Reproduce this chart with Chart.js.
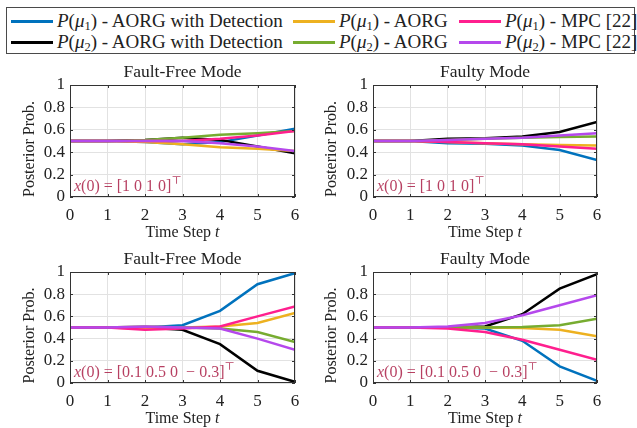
<!DOCTYPE html>
<html>
<head>
<meta charset="utf-8">
<script src="https://cdn.jsdelivr.net/npm/chart.js@4"></script>
<style>
body { margin: 0; background: #fff; width: 637px; height: 428px; position: relative; overflow: hidden;
       font-family: "Liberation Serif", "DejaVu Serif", serif; color: #222; }
canvas { position: absolute; }
#legendBox { position: absolute; left: 6px; top: 7px; width: 627px; height: 45px; border: 1px solid #4a4a4a; }
.sw { position: absolute; width: 42px; height: 3px; }
.lb { position: absolute; font-size: 19px; line-height: 22px; height: 22px; white-space: nowrap; }
.lb sub { font-size: 12.5px; vertical-align: -3px; line-height: 0; }
</style>
</head>
<body>
<div id="legendBox"></div>
<div id="legend"></div>
<canvas id="tl" width="310" height="185" style="left:0;top:58px"></canvas>
<canvas id="tr" width="327" height="185" style="left:310px;top:58px"></canvas>
<canvas id="bl" width="310" height="183" style="left:0;top:245px"></canvas>
<canvas id="br" width="327" height="183" style="left:310px;top:245px"></canvas>
<script>
const steps = [0, 1, 2, 3, 4, 5, 6];
const yTicks = [0, 0.2, 0.4, 0.6, 0.8, 1];
const yTickLabels = ['0', '0.2', '0.4', '0.6', '0.8', '1'];

// fault-free mode, x(0) = [1 0 1 0]
const ffA_detMu1 = [0.5, 0.5, 0.49, 0.47, 0.49, 0.55, 0.61];
const ffA_detMu2 = [0.5, 0.5, 0.51, 0.53, 0.51, 0.45, 0.39];
const ffA_aorgMu1 = [0.5, 0.5, 0.49, 0.47, 0.445, 0.43, 0.41];
const ffA_aorgMu2 = [0.5, 0.5, 0.51, 0.53, 0.555, 0.57, 0.59];
const ffA_mpcMu1 = [0.5, 0.5, 0.5, 0.5, 0.52, 0.55, 0.59];
const ffA_mpcMu2 = [0.5, 0.5, 0.5, 0.5, 0.48, 0.45, 0.41];

// faulty mode, x(0) = [1 0 1 0]
const fyA_detMu1 = [0.5, 0.5, 0.48, 0.475, 0.46, 0.42, 0.33];
const fyA_detMu2 = [0.5, 0.5, 0.52, 0.525, 0.54, 0.58, 0.67];
const fyA_aorgMu1 = [0.5, 0.5, 0.49, 0.48, 0.47, 0.465, 0.46];
const fyA_aorgMu2 = [0.5, 0.5, 0.51, 0.52, 0.53, 0.535, 0.54];
const fyA_mpcMu1 = [0.5, 0.5, 0.49, 0.48, 0.47, 0.45, 0.43];
const fyA_mpcMu2 = [0.5, 0.5, 0.51, 0.52, 0.53, 0.55, 0.57];

// fault-free mode, x(0) = [0.1 0.5 0 -0.3]
const ffB_detMu1 = [0.5, 0.5, 0.5, 0.52, 0.65, 0.89, 0.99];
const ffB_detMu2 = [0.5, 0.5, 0.5, 0.48, 0.35, 0.11, 0.01];
const ffB_aorgMu1 = [0.5, 0.5, 0.49, 0.5, 0.51, 0.54, 0.63];
const ffB_aorgMu2 = [0.5, 0.5, 0.51, 0.5, 0.49, 0.46, 0.37];
const ffB_mpcMu1 = [0.5, 0.5, 0.48, 0.49, 0.51, 0.6, 0.69];
const ffB_mpcMu2 = [0.5, 0.5, 0.51, 0.5, 0.49, 0.4, 0.3];

// faulty mode, x(0) = [0.1 0.5 0 -0.3]
const fyB_detMu1 = [0.5, 0.5, 0.5, 0.49, 0.38, 0.15, 0.02];
const fyB_detMu2 = [0.5, 0.5, 0.5, 0.51, 0.62, 0.85, 0.98];
const fyB_aorgMu1 = [0.5, 0.5, 0.5, 0.5, 0.495, 0.48, 0.42];
const fyB_aorgMu2 = [0.5, 0.5, 0.5, 0.5, 0.505, 0.52, 0.58];
const fyB_mpcMu1 = [0.5, 0.5, 0.49, 0.46, 0.39, 0.3, 0.21];
const fyB_mpcMu2 = [0.5, 0.5, 0.51, 0.54, 0.61, 0.7, 0.79];

const seriesNames = ['AORG with Detection', 'AORG with Detection', 'AORG', 'AORG', 'MPC [22]', 'MPC [22]'];
const seriesMu = [1, 2, 1, 2, 1, 2];
const seriesColors = ['#0072BD', '#000000', '#EDB120', '#77AC30', '#FF1F8E', '#B548EC'];

// legend (html, two rows of three)
const legend = document.getElementById('legend');
const colX = [11, 293, 459];
const rowY = [21, 42];
seriesNames.forEach(function (name, i) {
    const col = Math.floor(i / 2), row = i % 2;
    const sw = document.createElement('div');
    sw.className = 'sw';
    sw.style.left = colX[col] + 'px';
    sw.style.top = (rowY[row] - 1.5) + 'px';
    sw.style.background = seriesColors[i];
    legend.appendChild(sw);
    const lb = document.createElement('div');
    lb.className = 'lb';
    lb.style.left = (colX[col] + 46) + 'px';
    lb.style.top = (rowY[row] - 11) + 'px';
    lb.innerHTML = '<i>P</i>(<i>μ</i><sub>' + seriesMu[i] + '</sub>) - ' + name;
    legend.appendChild(lb);
});

const serif = '"Liberation Serif", "DejaVu Serif", serif';

function drawRuns(ctx, runs, x, y, align) {
    let w = 0;
    runs.forEach(function (r) { ctx.font = r.font; w += ctx.measureText(r.t).width; });
    let cx = align === 'center' ? x - w / 2 : x;
    runs.forEach(function (r) {
        ctx.font = r.font;
        ctx.fillText(r.t, cx, y + (r.dy || 0));
        cx += ctx.measureText(r.t).width;
    });
}

// titles, axis labels, note and axes box
const panelText = {
    id: 'panelText',
    afterDatasetsDraw(chart, args, opts) {
        const ctx = chart.ctx, a = chart.chartArea;
        ctx.save();
        ctx.strokeStyle = '#333';
        ctx.lineWidth = 1;
        ctx.strokeRect(a.left + 0.5, a.top + 0.5, a.right - a.left - 1, a.bottom - a.top - 1);
        // inward ticks
        const xs = chart.scales.x, ys = chart.scales.y;
        ctx.beginPath();
        steps.forEach(function (v) {
            const px = Math.round(xs.getPixelForValue(v)) + 0.5;
            ctx.moveTo(px, a.bottom); ctx.lineTo(px, a.bottom - 3);
            ctx.moveTo(px, a.top); ctx.lineTo(px, a.top + 3);
        });
        yTicks.forEach(function (v) {
            const py = Math.round(ys.getPixelForValue(v)) + 0.5;
            ctx.moveTo(a.left, py); ctx.lineTo(a.left + 3, py);
            ctx.moveTo(a.right, py); ctx.lineTo(a.right - 3, py);
        });
        ctx.stroke();

        ctx.fillStyle = '#222';
        ctx.textBaseline = 'middle';
        ctx.textAlign = 'left';
        drawRuns(ctx, [{ t: opts.title, font: '17.5px ' + serif }], (a.left + a.right) / 2, a.top - 13, 'center');
        drawRuns(ctx, [{ t: 'Time Step ', font: '16px ' + serif }, { t: 't', font: 'italic 16px ' + serif }],
            (a.left + a.right) / 2, a.bottom + 36, 'center');
        ctx.save();
        ctx.translate(opts.yLabelX, (a.top + a.bottom) / 2 + 8);
        ctx.rotate(-Math.PI / 2);
        drawRuns(ctx, [{ t: 'Posterior Prob.', font: '16px ' + serif }], 0, 0, 'center');
        ctx.restore();

        ctx.fillStyle = 'rgba(170, 30, 70, 0.85)';
        drawRuns(ctx, [
            { t: 'x', font: 'italic 16px ' + serif },
            { t: '(0) = ' + opts.note, font: '16px ' + serif },
            { t: '⊤', font: '11px ' + serif, dy: -6 }
        ], a.left + 4, a.bottom - 10, 'left');
        ctx.restore();
    }
};

function makePanel(id, title, note, yLabelX, plot, canvasRect, data) {
    const ctx = document.getElementById(id);
    // draw order: first dataset ends up on top
    const order = [5, 4, 3, 2, 1, 0];
    const datasets = order.map(function (i) {
        return {
            label: 'P(mu' + seriesMu[i] + ') - ' + seriesNames[i],
            data: steps.map(function (t, k) { return { x: t, y: data[i][k] }; }),
            borderColor: seriesColors[i],
            borderWidth: 2.5,
            pointRadius: 0,
            tension: 0,
            fill: false
        };
    });
    new Chart(ctx, {
        type: 'line',
        data: { datasets: datasets },
        plugins: [panelText],
        options: {
            responsive: false,
            animation: false,
            events: [],
            layout: {
                padding: {
                    top: plot.t - canvasRect.y,
                    right: canvasRect.x + canvasRect.w - plot.r,
                    left: 0,
                    bottom: 0
                }
            },
            plugins: {
                legend: { display: false },
                tooltip: { enabled: false },
                panelText: { title: title, note: note, yLabelX: yLabelX - canvasRect.x }
            },
            scales: {
                x: {
                    type: 'linear',
                    min: 0,
                    max: 6,
                    afterFit: function (s) { s.height = canvasRect.y + canvasRect.h - plot.b; },
                    afterBuildTicks: function (s) { s.ticks = steps.map(function (v) { return { value: v }; }); },
                    grid: { color: '#e2e2e2', drawTicks: false },
                    border: { display: false },
                    ticks: { autoSkip: false, maxRotation: 0, padding: 8, color: '#222', font: { family: serif, size: 17 } }
                },
                y: {
                    min: 0,
                    max: 1,
                    afterFit: function (s) { s.width = plot.l - canvasRect.x; },
                    afterBuildTicks: function (s) { s.ticks = yTicks.map(function (v) { return { value: v }; }); },
                    grid: { color: '#e2e2e2', drawTicks: false },
                    border: { display: false },
                    ticks: {
                        autoSkip: false, padding: 5, color: '#222', font: { family: serif, size: 17 },
                        callback: function (v, i) { return yTickLabels[i]; }
                    }
                }
            }
        }
    });
}

const noteA = '[1 0 1 0]';
const noteB = '[0.1 0.5 0  − 0.3]';

makePanel('tl', 'Fault-Free Mode', noteA, 30, { l: 70, t: 85, r: 295, b: 197 }, { x: 0, y: 58, w: 310, h: 185 },
    [ffA_detMu1, ffA_detMu2, ffA_aorgMu1, ffA_aorgMu2, ffA_mpcMu1, ffA_mpcMu2]);
makePanel('tr', 'Faulty Mode', noteA, 332, { l: 373, t: 85, r: 597, b: 197 }, { x: 310, y: 58, w: 327, h: 185 },
    [fyA_detMu1, fyA_detMu2, fyA_aorgMu1, fyA_aorgMu2, fyA_mpcMu1, fyA_mpcMu2]);
makePanel('bl', 'Fault-Free Mode', noteB, 30, { l: 70, t: 272, r: 295, b: 383 }, { x: 0, y: 245, w: 310, h: 183 },
    [ffB_detMu1, ffB_detMu2, ffB_aorgMu1, ffB_aorgMu2, ffB_mpcMu1, ffB_mpcMu2]);
makePanel('br', 'Faulty Mode', noteB, 332, { l: 373, t: 272, r: 597, b: 383 }, { x: 310, y: 245, w: 327, h: 183 },
    [fyB_detMu1, fyB_detMu2, fyB_aorgMu1, fyB_aorgMu2, fyB_mpcMu1, fyB_mpcMu2]);
</script>
</body>
</html>
